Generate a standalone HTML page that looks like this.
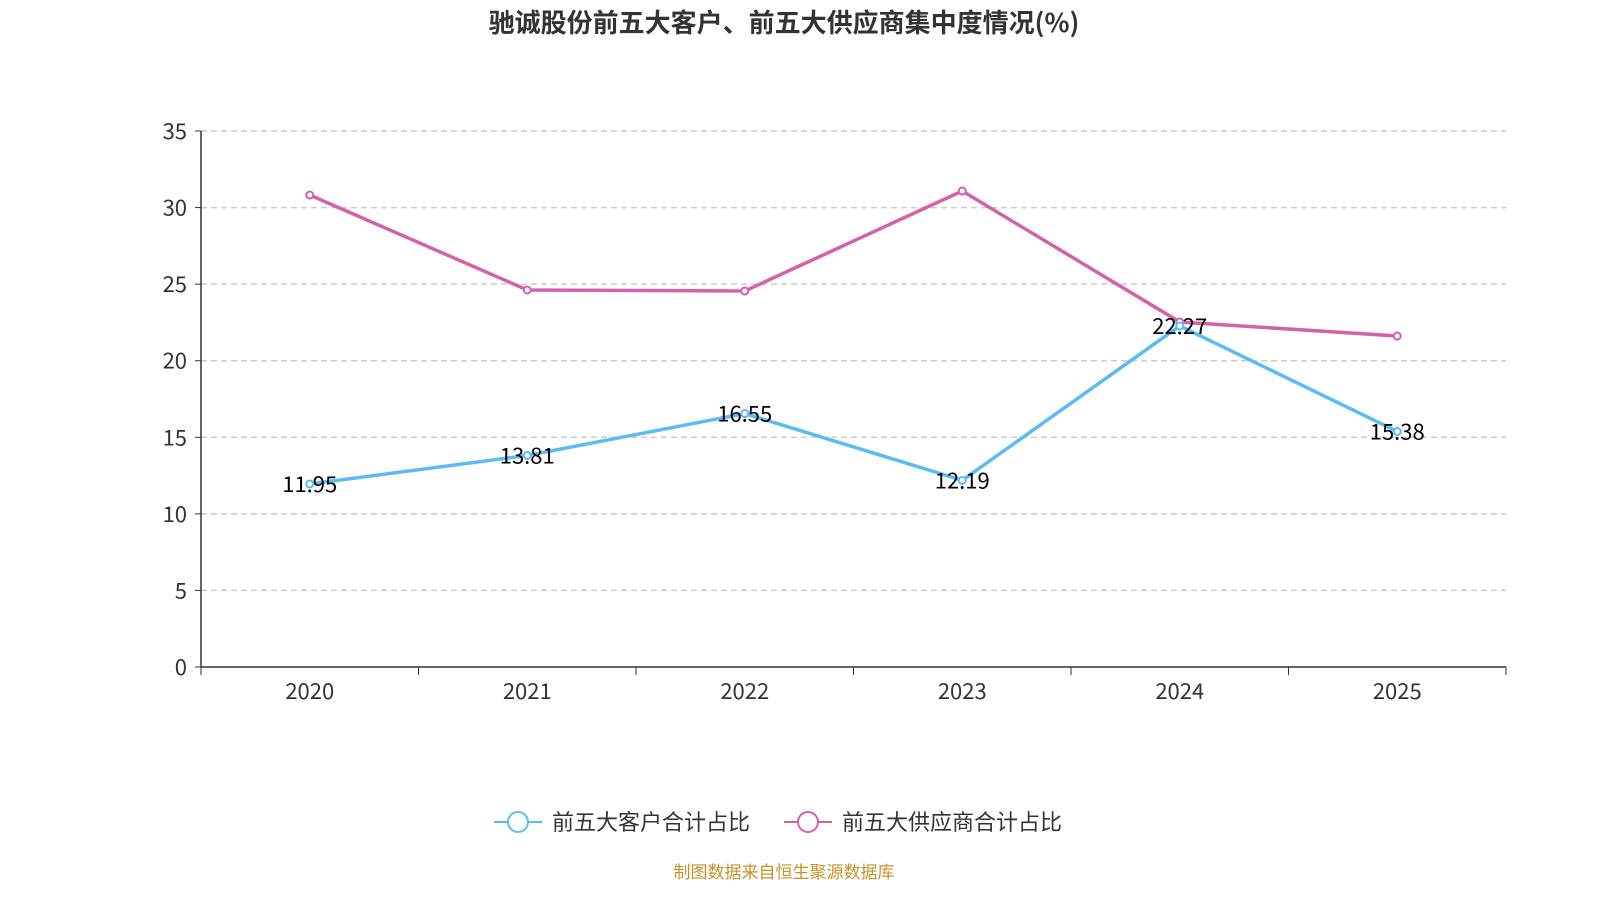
<!DOCTYPE html>
<html><head><meta charset="utf-8">
<style>
html,body{margin:0;padding:0;width:1600px;height:900px;overflow:hidden;background:#fff;font-family:"Noto Sans CJK SC","Liberation Sans",sans-serif;}
svg{display:block}
</style></head>
<body>
<svg id="chart" width="1600" height="900" viewBox="0 0 1600 900" xmlns="http://www.w3.org/2000/svg">
<text x="784" y="32" text-anchor="middle" font-size="26" font-weight="bold" fill="#333" font-family="Noto Sans CJK SC, Liberation Sans, sans-serif">驰诚股份前五大客户、前五大供应商集中度情况(%)</text>
<g id="grid"></g><g id="axes"></g><g id="series"></g>
<g>
 <g>
  <line x1="494" y1="822" x2="542" y2="822" stroke="#5bbcf3" stroke-width="2"/>
  <circle cx="518" cy="822" r="10" fill="#fff" stroke="#5bbcf3" stroke-width="2"/>
  <text x="552" y="830" font-size="22" fill="#333" font-family="Noto Sans CJK SC, Liberation Sans, sans-serif">前五大客户合计占比</text>
 </g>
 <g>
  <line x1="784" y1="822" x2="832" y2="822" stroke="#d462a8" stroke-width="2"/>
  <circle cx="808" cy="822" r="10" fill="#fff" stroke="#d462a8" stroke-width="2"/>
  <text x="842" y="830" font-size="22" fill="#333" font-family="Noto Sans CJK SC, Liberation Sans, sans-serif">前五大供应商合计占比</text>
 </g>
</g>
<text x="784" y="878" text-anchor="middle" font-size="17" fill="#c8922a" font-family="Noto Sans CJK SC, Liberation Sans, sans-serif">制图数据来自恒生聚源数据库</text>
</svg>
<script>
const categories=["2020","2021","2022","2023","2024","2025"];
const customers=[11.95,13.81,16.55,12.19,22.27,15.38];
const suppliers=[30.82,24.62,24.55,31.08,22.53,21.61];
const yTicks=[0,5,10,15,20,25,30,35];
const NS="http://www.w3.org/2000/svg";
const L=201,R=1506,T=131,B=667,yMax=35;
const bw=(R-L)/categories.length;
const x=i=>L+bw*(i+0.5);
const y=v=>B-(v/yMax)*(B-T);
function mk(tag,attrs,parent,txt){const e=document.createElementNS(NS,tag);for(const k in attrs)e.setAttribute(k,attrs[k]);if(txt!=null)e.textContent=txt;parent.appendChild(e);return e;}
const grid=document.getElementById('grid'),axes=document.getElementById('axes'),ser=document.getElementById('series');
const F="Noto Sans CJK SC, Liberation Sans, sans-serif";
yTicks.forEach(t=>{
 if(t>0){const g=mk('line',{x1:L,x2:R,y1:y(t),y2:y(t),stroke:'#ccc','stroke-dasharray':'6,4','stroke-width':1.5},grid);
 
 }
 const tk=mk('line',{x1:L-6,x2:L,y1:y(t),y2:y(t),stroke:'#333'},axes);
 
 
 const lb=mk('text',{x:L-14,y:y(t)+8,'text-anchor':'end','font-size':22,fill:'#333','font-family':F},axes,String(t));
 
 
});
const ya=mk('line',{x1:L,x2:L,y1:T,y2:B,stroke:'#333','stroke-width':1.5},axes);


const xa=mk('line',{x1:L,x2:R,y1:B,y2:B,stroke:'#333','stroke-width':1.5},axes);


for(let i=0;i<=categories.length;i++){const t=mk('line',{x1:L+bw*i,x2:L+bw*i,y1:B,y2:B+8,stroke:'#333'},axes);
 
 }
categories.forEach((c,i)=>{const t=mk('text',{x:x(i),y:B+32,'text-anchor':'middle','font-size':22,fill:'#333','font-family':F},axes,c);
 
 });
function draw(vals,color,name,labels){
 const p=mk('polyline',{points:vals.map((v,i)=>x(i)+','+y(v)).join(' '),fill:'none',stroke:color,'stroke-width':3.5},ser);
 
 
 vals.forEach((v,i)=>{const c=mk('circle',{cx:x(i),cy:y(v),r:3.5,fill:'#fff',stroke:color,'stroke-width':2},ser);
  
  
  if(labels){const t=mk('text',{x:x(i),y:y(v)+8,'text-anchor':'middle','font-size':22,fill:'#000','font-family':F},ser,v.toFixed(2));
  
  }
 });
}
draw(suppliers,'#d462a8','suppliers',false);
draw(customers,'#5bbcf3','customers',true);
</script>
</body></html>
